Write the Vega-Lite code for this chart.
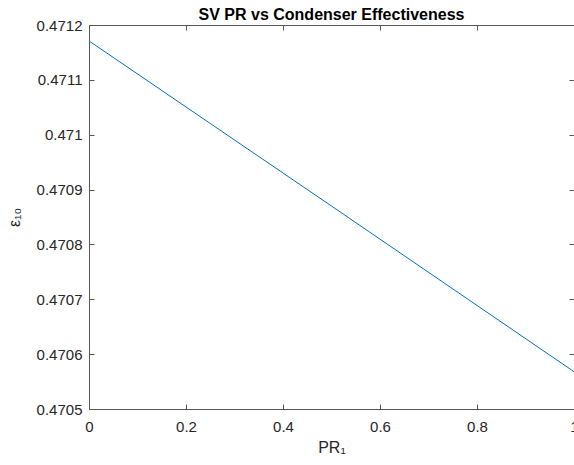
{
  "$schema": "https://vega.github.io/schema/vega-lite/v6.json",
  "width": 485,
  "height": 384,
  "autosize": "none",
  "padding": {"left": 89, "top": 25, "right": 0, "bottom": 56},
  "background": "white",
  "title": {"text": "SV PR vs Condenser Effectiveness", "fontSize": 16, "font": "Liberation Sans", "fontWeight": "bold", "color": "#000000", "baseline": "alphabetic", "offset": -18, "anchor": "middle", "frame": "group"},
  "config": {
    "view": {"stroke": "#555555", "strokeWidth": 1},
    "axis": {"domainColor": "#555555", "tickColor": "#555555", "labelColor": "#262626", "titleColor": "#262626", "labelFont": "Liberation Sans", "titleFont": "Liberation Sans", "labelFontSize": 15, "titleFontSize": 16, "titleFontWeight": "normal", "grid": false, "tickSize": -5, "labelFlush": false, "labelOverlap": false}
  },
  "data": {"values": [
    {"PR": 0, "eps": 0.471171},
    {"PR": 0.5, "eps": 0.470870},
    {"PR": 1, "eps": 0.470568}
  ]},
  "layer": [
    {
      "mark": {"type": "line", "color": "#0072BD", "strokeWidth": 1, "clip": true},
      "encoding": {
        "x": {"field": "PR", "type": "quantitative", "scale": {"domain": [0, 1], "nice": false, "zero": false}, "axis": {"orient": "bottom", "values": [0, 0.2, 0.4, 0.6, 0.8, 1], "format": "~g", "title": "PR₁", "labelPadding": 15, "titlePadding": 5}},
        "y": {"field": "eps", "type": "quantitative", "scale": {"domain": [0.4705, 0.4712], "nice": false, "zero": false}, "axis": {"orient": "left", "values": [0.4705, 0.4706, 0.4707, 0.4708, 0.4709, 0.471, 0.4711, 0.4712], "format": "~g", "title": "ε₁₀", "labelPadding": 12, "titlePadding": 14}}
      }
    },
    {
      "mark": {"type": "line", "opacity": 0},
      "encoding": {
        "x": {"field": "PR", "type": "quantitative", "scale": {"domain": [0, 1], "nice": false, "zero": false}, "axis": {"orient": "top", "values": [0, 0.2, 0.4, 0.6, 0.8, 1], "labels": false, "title": null}},
        "y": {"field": "eps", "type": "quantitative", "scale": {"domain": [0.4705, 0.4712], "nice": false, "zero": false}, "axis": {"orient": "right", "values": [0.4705, 0.4706, 0.4707, 0.4708, 0.4709, 0.471, 0.4711, 0.4712], "labels": false, "title": null}}
      }
    }
  ],
  "resolve": {"axis": {"x": "independent", "y": "independent"}}
}
